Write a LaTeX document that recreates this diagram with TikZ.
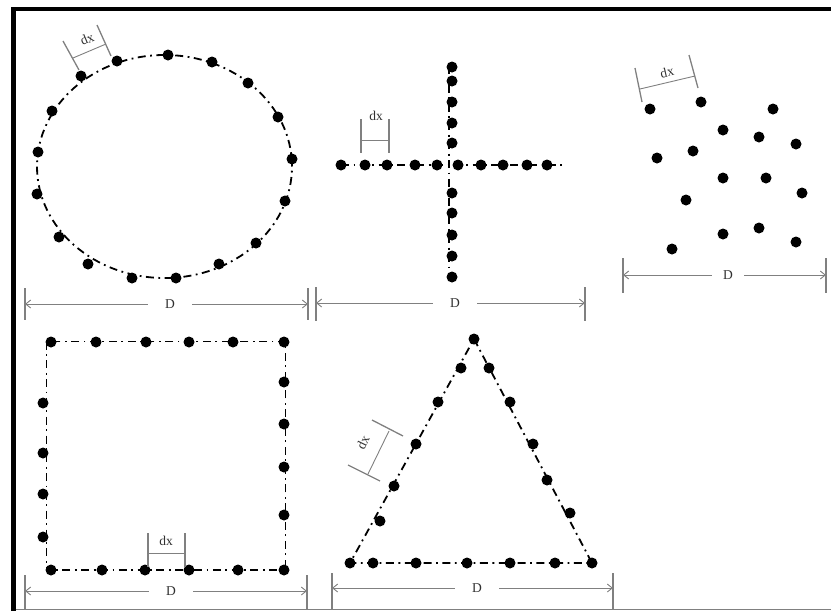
\documentclass[tikz,border=0pt]{standalone}
\usepackage{fontspec}
\setmainfont{Liberation Serif}
\usetikzlibrary{arrows.meta}
\definecolor{dimgray}{HTML}{808080}
\definecolor{txtgray}{HTML}{303030}
\tikzset{
  dashdot/.style={line width=1.8pt, dash pattern=on 8pt off 4.5pt on 1.8pt off 4.5pt},
  dotmark/.style={circle, fill=black, inner sep=0pt, minimum size=11pt},
  dimline/.style={draw=dimgray, line width=0.9pt, {Straight Barb[length=5pt,width=8pt]}-{Straight Barb[length=5pt,width=8pt]}},
  ticke/.style={draw=dimgray, line width=1.3pt},
  thin dim/.style={draw=dimgray, line width=0.9pt},
  dlabel/.style={fill=white, font=\fontsize{13.5}{15}\selectfont, text=txtgray, inner sep=0pt, minimum width=44pt, minimum height=12pt},
  dxlabel/.style={font=\fontsize{13.5}{15}\selectfont, text=txtgray, inner sep=0pt}
}
\begin{document}
\begin{tikzpicture}[x=1pt,y=-1pt]
\useasboundingbox (0,0) rectangle (831,611);
% frame
\draw[line width=4pt] (11,9) -- (831,9);
\draw[line width=5pt] (13.5,7) -- (13.5,611);
\draw[draw=dimgray, line width=1.5pt] (16,609.5) -- (831,609.5);

% ---------- circle ----------
\draw[dashdot] (164.5,166.5) ellipse [x radius=127.5pt, y radius=111.5pt];
\foreach \p [count=\i] in {(117,61),(168,55),(212,62),(248,83),(278,117),(292,159),(285,201),(256,243),(219,264),(176,278),(132,278),(88,264),(59,237),(37,194),(38,152),(52,111),(81,76)}
  \node[dotmark] (c\i) at \p {};
\coordinate (cdxa1) at (63,41); \coordinate (cdxa2) at (79,70);
\coordinate (cdxb1) at (97,25); \coordinate (cdxb2) at (111,56);
\draw[ticke] (cdxa1) -- (cdxa2);
\draw[ticke] (cdxb1) -- (cdxb2);
\coordinate (cdl1) at (73,58); \coordinate (cdl2) at (106,44);
\draw[thin dim] (cdl1) -- (cdl2);
\node[dxlabel, rotate=23] (cdx) at (87,39) {dx};
% D
\coordinate (cD1) at (25,304); \coordinate (cD2) at (308,304);
\draw[ticke] (25,288) -- (25,320);
\draw[ticke] (308,288) -- (308,320);
\draw[dimline] (cD1) -- (cD2);
\node[dlabel] (cD) at (170,304) {D};

% ---------- cross ----------
\draw[dashdot] (341,165) -- (563,165);
\draw[dashdot] (449,66) -- (449,278);
\foreach \p [count=\i] in {(341,165),(365,165),(387,165),(415,165),(437,165),(458,165),(481,165),(503,165),(527,165),(547,165),(452,67),(452,81),(452,102),(452,123),(452,143),(452,193),(452,213),(452,235),(452,256),(452,277)}
  \node[dotmark] (x\i) at \p {};
\draw[ticke] (361,119) -- (361,153);
\draw[ticke] (389,119) -- (389,153);
\coordinate (xdl1) at (361,140); \coordinate (xdl2) at (389,140);
\draw[thin dim] (xdl1) -- (xdl2);
\node[dxlabel] (xdx) at (376,116) {dx};
\coordinate (xD1) at (316,303); \coordinate (xD2) at (585,303);
\draw[ticke] (316,287) -- (316,321);
\draw[ticke] (585,287) -- (585,321);
\draw[dimline] (xD1) -- (xD2);
\node[dlabel] (xD) at (455,303) {D};

% ---------- scatter ----------
\foreach \p [count=\i] in {(650,109),(701,102),(773,109),(723,130),(759,137),(796,144),(657,158),(693,151),(723,178),(766,178),(802,193),(686,200),(723,234),(759,228),(796,242),(672,249)}
  \node[dotmark] (s\i) at \p {};
\draw[ticke] (635,68) -- (642,102);
\draw[ticke] (689,55) -- (698,88);
\coordinate (sdl1) at (640,89); \coordinate (sdl2) at (695,76);
\draw[thin dim] (sdl1) -- (sdl2);
\node[dxlabel, rotate=13] (sdx) at (667,72) {dx};
\coordinate (sD1) at (623,275); \coordinate (sD2) at (826,275);
\draw[ticke] (623,258) -- (623,293);
\draw[ticke] (826,258) -- (826,293);
\draw[dimline] (sD1) -- (sD2);
\node[dlabel, minimum width=32pt] (sD) at (728,275) {D};

% ---------- square ----------
\draw[dashdot] (46.5,341.5) rectangle (285.5,570);
\foreach \p [count=\i] in {(51,342),(96,342),(146,342),(189,342),(233,342),(284,342),(43,403),(43,453),(43,494),(43,537),(284,382),(284,424),(284,467),(284,515),(51,570),(102,570),(145,570),(189,570),(238,570),(284,570)}
  \node[dotmark] (q\i) at \p {};
\draw[ticke] (148,533) -- (148,567);
\draw[ticke] (185,533) -- (185,567);
\coordinate (qdl1) at (148,553); \coordinate (qdl2) at (185,553);
\draw[thin dim] (qdl1) -- (qdl2);
\node[dxlabel] (qdx) at (166,541) {dx};
\coordinate (qD1) at (25,591); \coordinate (qD2) at (307,591);
\draw[ticke] (25,575) -- (25,609);
\draw[ticke] (307,575) -- (307,609);
\draw[dimline] (qD1) -- (qD2);
\node[dlabel] (qD) at (171,591) {D};

% ---------- triangle ----------
\draw[dashdot] (474,339) -- (592,563) -- (350,563) -- cycle;
\foreach \p [count=\i] in {(474,339),(461,368),(438,402),(416,444),(394,486),(380,521),(350,563),(373,563),(416,563),(467,563),(510,563),(555,563),(592,563),(489,368),(510,402),(533,444),(547,480),(570,513)}
  \node[dotmark] (t\i) at \p {};
\draw[ticke] (372,420) -- (403,436);
\draw[ticke] (348,465) -- (380,481);
\coordinate (tdl1) at (389,431); \coordinate (tdl2) at (368,474);
\draw[thin dim] (tdl1) -- (tdl2);
\node[dxlabel, rotate=64] (tdx) at (363,442) {dx};
\coordinate (tD1) at (332,588); \coordinate (tD2) at (613,588);
\draw[ticke] (332,573) -- (332,609);
\draw[ticke] (613,573) -- (613,609);
\draw[dimline] (tD1) -- (tD2);
\node[dlabel] (tD) at (477,588) {D};
\end{tikzpicture}
\end{document}
